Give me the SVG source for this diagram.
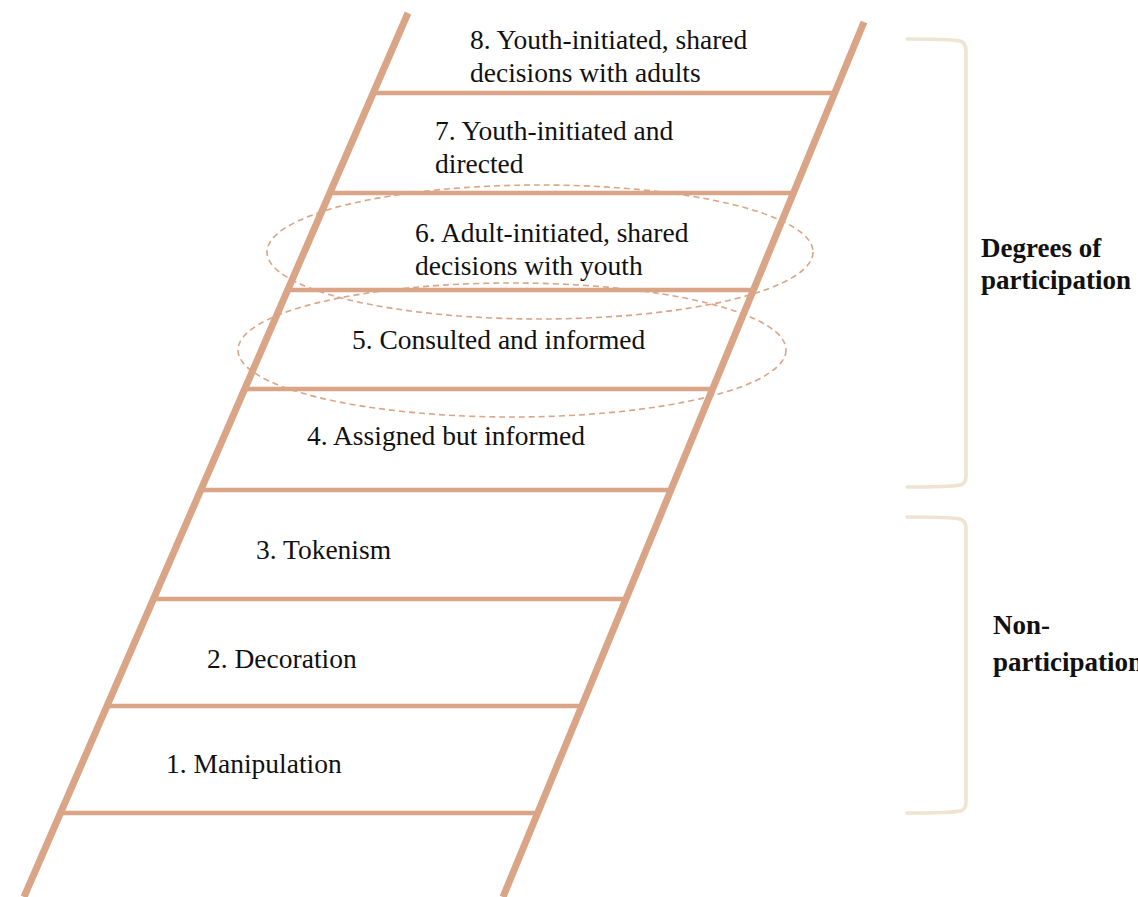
<svg xmlns="http://www.w3.org/2000/svg" width="1138" height="897" viewBox="0 0 1138 897">
  <style>
    .rail { stroke: #D9A586; stroke-width: 7; stroke-linecap: butt; fill: none; }
    .rung { stroke: #D9A586; stroke-width: 4.5; fill: none; }
    .ring { stroke: #D9A586; stroke-width: 1.6; stroke-dasharray: 6 4; fill: none; }
    .brace { stroke: #F0E3D1; stroke-width: 3.5; fill: none; stroke-linecap: round; }
    .step { font-family: "Liberation Serif", "Times New Roman", serif; font-size: 27.5px; fill: #111; }
    .group { font-family: "Liberation Serif", "Times New Roman", serif; font-size: 27px; font-weight: bold; fill: #111; }
  </style>
  <rect width="1138" height="897" fill="#ffffff"/>

  <!-- ladder rails and rungs -->
  <g id="ladder">
    <line class="rail" x1="408" y1="13" x2="24" y2="897"/>
    <line class="rail" x1="864" y1="22" x2="503" y2="897"/>
    <line class="rung" x1="373" y1="93" x2="835" y2="93"/>
    <line class="rung" x1="330" y1="193" x2="794" y2="193"/>
    <line class="rung" x1="288" y1="290" x2="754" y2="290"/>
    <line class="rung" x1="245" y1="389" x2="713" y2="389"/>
    <line class="rung" x1="201" y1="490" x2="671" y2="490"/>
    <line class="rung" x1="154" y1="599" x2="626" y2="599"/>
    <line class="rung" x1="107" y1="706" x2="582" y2="706"/>
    <line class="rung" x1="61" y1="813" x2="538" y2="813"/>
  </g>

  <!-- rungs of the ladder, top to bottom -->
  <g id="step8"><text class="step" x="470" y="49">8. Youth-initiated, shared</text><text class="step" x="470" y="82">decisions with adults</text></g>
  <g id="step7"><text class="step" x="435" y="140">7. Youth-initiated and</text><text class="step" x="435" y="173">directed</text></g>
  <g id="step6"><text class="step" x="415" y="242">6. Adult-initiated, shared</text><text class="step" x="415" y="275">decisions with youth</text></g>
  <g id="step5"><text class="step" x="352" y="349">5. Consulted and informed</text></g>
  <g id="step4"><text class="step" x="307" y="445">4. Assigned but informed</text></g>
  <g id="step3"><text class="step" x="256" y="559">3. Tokenism</text></g>
  <g id="step2"><text class="step" x="207" y="668">2. Decoration</text></g>
  <g id="step1"><text class="step" x="166" y="773">1. Manipulation</text></g>

  <!-- dashed highlights around steps 6 and 5 -->
  <g id="highlights">
    <ellipse class="ring" cx="540" cy="252" rx="273" ry="67"/>
    <ellipse class="ring" cx="512" cy="350" rx="274" ry="67"/>
  </g>

  <!-- grouping brackets -->
  <g id="participation">
    <path class="brace" d="M907,39 Q950,39 960,41 Q966,43 966,50 L966,476 Q966,484 960,485 Q950,487 907,487"/>
    <text class="group" x="981" y="257">Degrees of</text>
    <text class="group" x="981" y="289">participation</text>
  </g>
  <g id="nonparticipation">
    <path class="brace" d="M907,517 Q950,517 960,519 Q966,521 966,528 L966,802 Q966,810 960,811 Q950,813 907,813"/>
    <text class="group" x="993" y="634">Non-</text>
    <text class="group" x="993" y="671">participation</text>
  </g>
</svg>
